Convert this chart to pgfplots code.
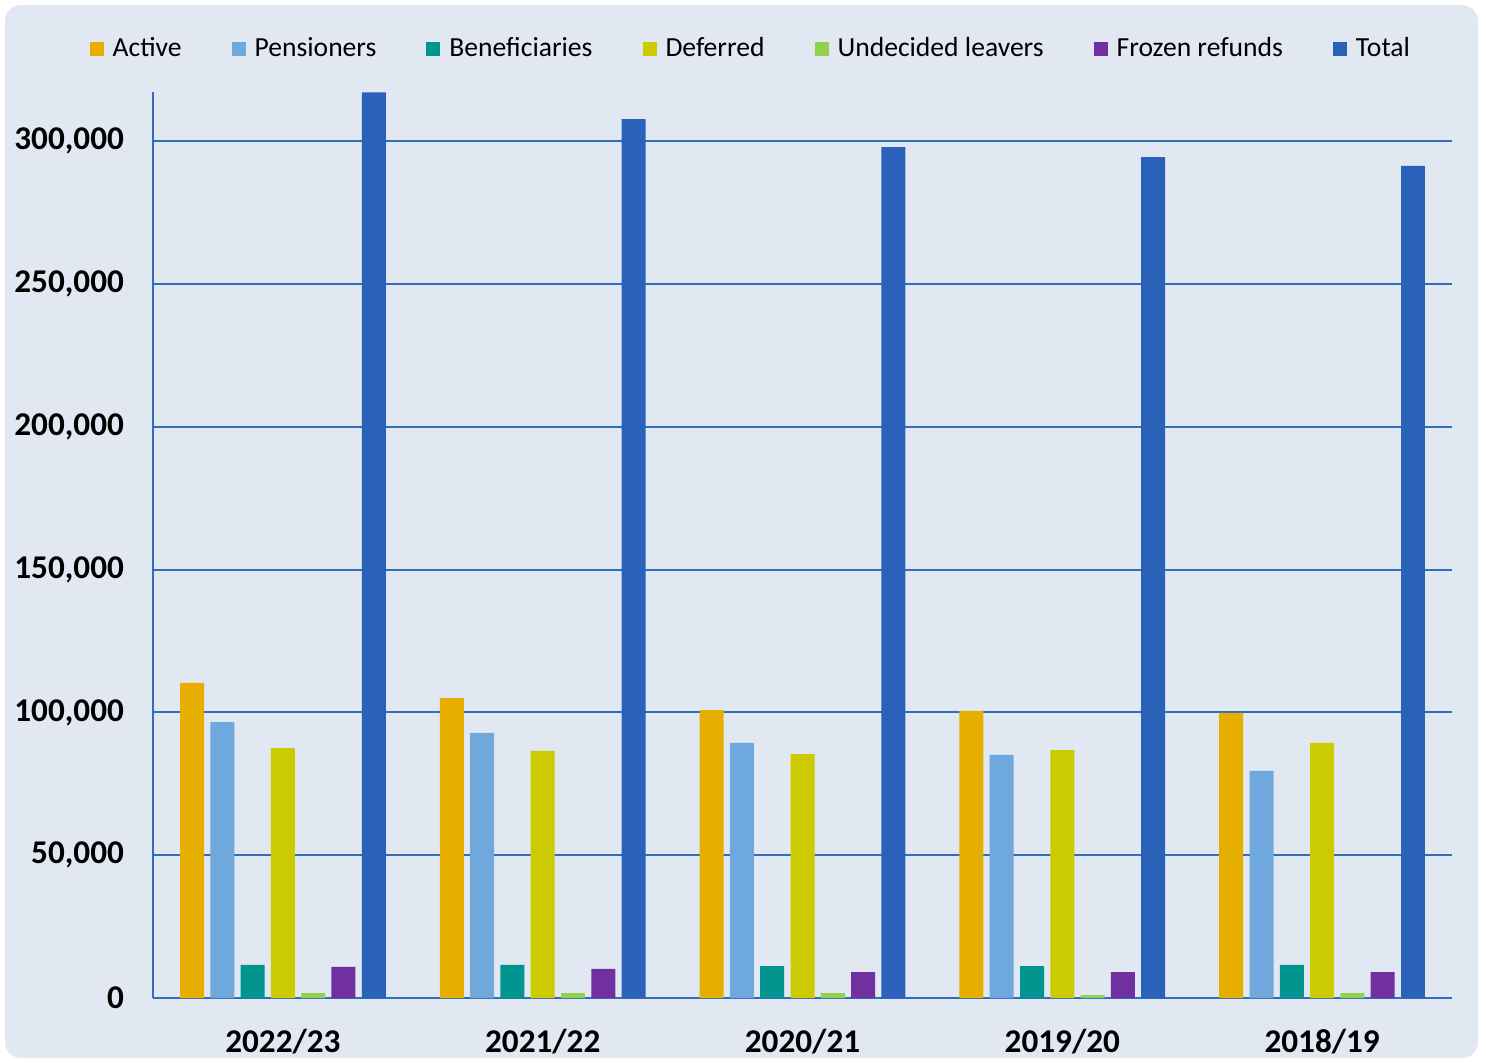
\documentclass[border=0pt]{standalone}
\usepackage{pgfplots}
\pgfplotsset{compat=1.18}
\usepackage{fontspec}
\setmainfont{Carlito}

\definecolor{cActive}{HTML}{E6AF00}
\definecolor{cPens}{HTML}{6FA8DC}
\definecolor{cBenef}{HTML}{00968F}
\definecolor{cDef}{HTML}{CCCA00}
\definecolor{cUnd}{HTML}{92D050}
\definecolor{cFroz}{HTML}{7030A0}
\definecolor{cTotal}{HTML}{2A62BA}
\definecolor{cGrid}{HTML}{2F6EBA}
\definecolor{cBg}{HTML}{E1E8F2}

% year index 0..4 = 2022/23 ... 2018/19
\pgfplotstableread{
x active pens benef deferred undec frozen total
0 110300 96600 11600 87500 1700 10900 317100
1 105000 92800 11600 86500 1700 10200 307700
2 100800 89300 11200 85400 1700 9100 297900
3 100500 85100 11200 86800 1000 9100 294400
4 99800 79500 11600 89300 1700 9100 291300
}\members

\begin{document}
\begin{tikzpicture}
\path[use as bounding box] (0,0) rectangle (743pt,531pt);
\fill[cBg, rounded corners=8pt] (2.5pt,2pt) rectangle (739pt,528.5pt);
\begin{axis}[
    at={(76.5pt,32pt)}, anchor=south west,
    scale only axis,
    width=649.5pt, height=453pt,
    ybar,
    bar width=0.0923,
    xmin=-0.5, xmax=4.5,
    ymin=0, ymax=317200,
    axis x line*=bottom,
    axis y line*=left,
    axis line style={cGrid, line width=1.1pt},
    xtick={0,1,2,3,4},
    xticklabels={2022/23,2021/22,2020/21,2019/20,2018/19},
    xtick style={draw=none},
    ytick={0,50000,100000,150000,200000,250000,300000},
    ytick style={draw=none},
    ymajorgrids,
    major grid style={cGrid, line width=1pt},
    scaled y ticks=false,
    /pgf/number format/.cd, fixed, 1000 sep={,}, assume math mode=true,
    /pgfplots/.cd,
    yticklabel style={font=\bfseries\fontsize{16.6}{16.6}\selectfont, xshift=-11pt},
    xticklabel style={font=\bfseries\fontsize{16.6}{16.6}\selectfont, yshift=-8pt},
    legend style={at={(0.461,1.0)}, anchor=south, yshift=12pt,
        draw=none, fill=none, font=\fontsize{13.8}{13.8}\selectfont,
        legend columns=-1,
        /tikz/every odd column/.append style={column sep=2.5pt},
        /tikz/every even column/.append style={column sep=23pt}},
    legend image code/.code={\fill (0pt,-3.5pt) rectangle (7pt,3.5pt);},
    every axis plot/.append style={draw=none},
]
\addplot[fill=cActive, bar shift=-0.3498] table[x=x,y=active]{\members};
\addplot[fill=cPens, bar shift=-0.2332] table[x=x,y=pens]{\members};
\addplot[fill=cBenef, bar shift=-0.1166] table[x=x,y=benef]{\members};
\addplot[fill=cDef, bar shift=0] table[x=x,y=deferred]{\members};
\addplot[fill=cUnd, bar shift=0.1166] table[x=x,y=undec]{\members};
\addplot[fill=cFroz, bar shift=0.2332] table[x=x,y=frozen]{\members};
\addplot[fill=cTotal, bar shift=0.3498] table[x=x,y=total]{\members};
\legend{Active,Pensioners,Beneficiaries,Deferred,Undecided leavers,Frozen refunds,Total}
\end{axis}
\end{tikzpicture}
\end{document}
